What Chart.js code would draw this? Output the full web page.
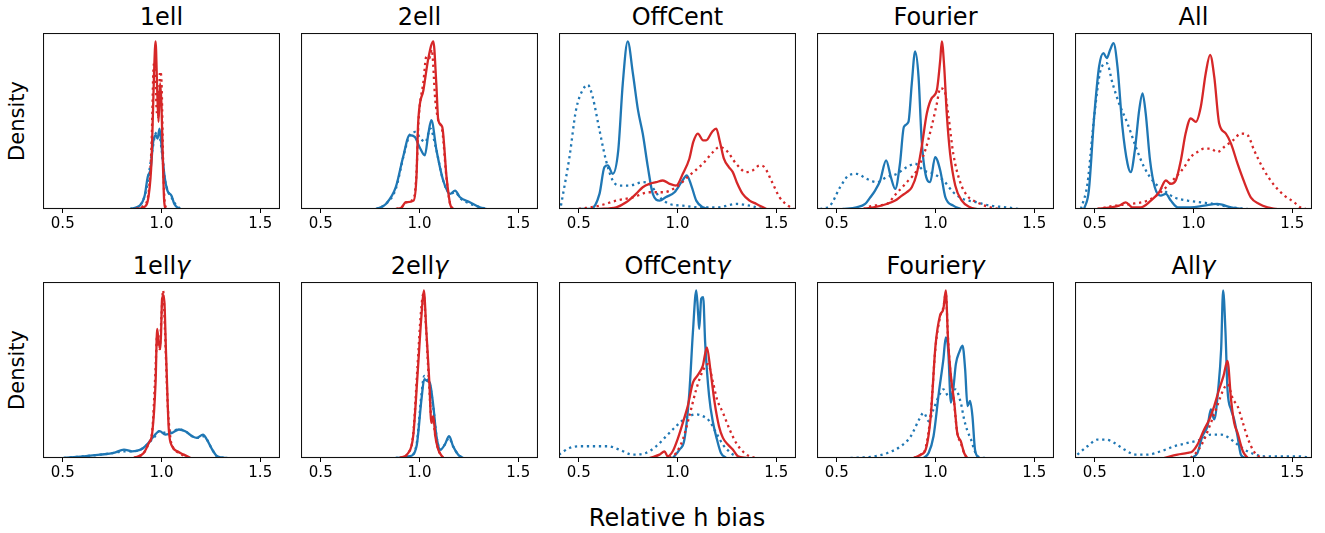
<!DOCTYPE html>
<html>
<head>
<meta charset="utf-8">
<script src="https://cdn.jsdelivr.net/npm/chart.js@4/dist/chart.umd.min.js"></script>
<style>
  html, body { margin: 0; padding: 0; background: #fff; }
  body { width: 1325px; height: 533px; position: relative; overflow: hidden; font-family: "DejaVu Sans", sans-serif; color: #000; }
  .title { position: absolute; width: 237px; text-align: center; font-size: 24px; line-height: 24px; white-space: nowrap; }
  .ylab { position: absolute; font-size: 21px; line-height: 21px; white-space: nowrap; transform: translate(-50%, -50%) rotate(-90deg); }
  .xlab { position: absolute; font-size: 24px; line-height: 24px; white-space: nowrap; transform: translateX(-50%); }
  canvas { position: absolute; }
</style>
</head>
<body>
<script>
// ---------- data (x = relative h bias, y = density scaled so panel max = 100) ----------
const xTicks = [0.5, 1.0, 1.5];
const titles = ["1ell", "2ell", "OffCent", "Fourier", "All", "1ell\u03b3", "2ell\u03b3", "OffCent\u03b3", "Fourier\u03b3", "All\u03b3"];

// 1ell
const ell1_blueSolid = [[0.84,0],[0.89,2],[0.915,8],[0.93,19],[0.945,24],[0.958,40],[0.97,44],[0.98,42],[0.99,48],[1.0,38],[1.015,20],[1.03,11],[1.05,8],[1.065,3],[1.09,0]];
const ell1_blueDot   = [[0.84,0],[0.89,2],[0.92,10],[0.935,20],[0.955,36],[0.97,45],[0.985,46],[1.0,36],[1.015,19],[1.035,10],[1.055,6],[1.075,2],[1.1,0]];
const ell1_redSolid  = [[0.87,0],[0.91,1],[0.935,8],[0.95,30],[0.962,80],[0.97,100],[0.978,72],[0.985,52],[0.993,75],[1.0,62],[1.007,28],[1.013,6],[1.02,0]];
const ell1_redDot    = [[0.87,0],[0.91,2],[0.935,10],[0.95,40],[0.96,85],[0.967,88],[0.975,60],[0.983,55],[0.993,82],[1.0,76],[1.008,30],[1.015,6],[1.025,0]];
// 2ell
const ell2_blueSolid = [[0.78,0],[0.83,3],[0.88,13],[0.917,31],[0.95,44],[0.976,43],[1.0,37],[1.027,32],[1.045,45],[1.06,53],[1.086,35],[1.12,17],[1.155,9],[1.18,11],[1.205,7],[1.255,4],[1.305,1],[1.34,0]];
const ell2_blueDot   = [[0.78,0],[0.83,3],[0.88,12],[0.92,32],[0.95,44],[0.98,46],[1.005,42],[1.03,40],[1.055,48],[1.08,38],[1.12,17],[1.155,9],[1.18,10],[1.21,6],[1.26,3],[1.31,1],[1.34,0]];
const ell2_redSolid  = [[0.88,0],[0.91,1],[0.93,4],[0.97,5],[0.985,20],[0.993,51],[1.02,71],[1.045,90],[1.07,100],[1.085,75],[1.095,53],[1.115,49],[1.137,19],[1.155,3],[1.17,0]];
const ell2_redDot    = [[0.88,0],[0.91,1],[0.93,4],[0.97,6],[0.985,22],[0.995,52],[1.02,76],[1.035,91],[1.05,90],[1.062,95],[1.08,65],[1.095,53],[1.115,47],[1.137,18],[1.155,3],[1.17,0]];
// OffCent
const off_blueSolid  = [[0.5,0],[0.56,0],[0.605,9],[0.63,25],[0.647,26],[0.672,21],[0.70,35],[0.723,75],[0.748,100],[0.774,81],[0.80,59],[0.824,45],[0.85,25],[0.875,9],[0.91,5],[0.94,7],[0.985,10],[1.02,16],[1.047,20],[1.07,14],[1.095,5],[1.13,1],[1.16,0]];
const off_blueDot    = [[0.41,2],[0.453,31],[0.486,59],[0.52,71],[0.546,74],[0.57,67],[0.605,47],[0.638,29],[0.672,17],[0.706,14],[0.757,14],[0.824,16],[0.858,15],[0.91,7],[0.96,3],[1.027,2],[1.11,1],[1.2,1],[1.30,3],[1.365,2],[1.43,0]];
const off_redSolid   = [[0.6,0],[0.69,1],[0.74,4],[0.79,9],[0.824,13],[0.858,15],[0.892,16],[0.926,17],[0.96,15],[0.993,14],[1.027,21],[1.06,30],[1.08,40],[1.103,45],[1.13,41],[1.145,41],[1.175,46],[1.196,48],[1.215,40],[1.235,30],[1.26,25],[1.28,22],[1.30,16],[1.33,9],[1.365,5],[1.40,3],[1.45,0]];
const off_redDot     = [[0.5,0],[0.605,2],[0.69,5],[0.774,7],[0.858,10],[0.926,10],[0.993,13],[1.06,20],[1.128,27],[1.18,34],[1.213,37],[1.247,35],[1.297,27],[1.348,22],[1.38,23],[1.416,26],[1.44,25],[1.475,17],[1.517,7],[1.56,2],[1.59,0]];
// Fourier
const four_blueSolid = [[0.53,0],[0.6,1],[0.644,3],[0.67,7],[0.694,11],[0.72,17],[0.75,29],[0.774,19],[0.796,12],[0.82,27],[0.84,49],[0.863,52],[0.88,75],[0.897,94],[0.914,79],[0.93,41],[0.953,19],[0.973,16],[0.998,31],[1.024,23],[1.05,7],[1.09,2],[1.13,0]];
const four_blueDot   = [[0.415,0],[0.466,2],[0.517,13],[0.56,20],[0.6,21],[0.652,18],[0.703,16],[0.753,19],[0.804,21],[0.855,25],[0.897,27],[0.94,23],[0.99,21],[1.04,17],[1.09,10],[1.14,6],[1.21,4],[1.277,2],[1.36,1],[1.42,0]];
const four_redSolid  = [[0.635,0],[0.686,1],[0.753,3],[0.796,5],[0.83,8],[0.855,10],[0.88,13],[0.905,21],[0.93,37],[0.956,57],[0.98,66],[1.007,71],[1.024,89],[1.032,100],[1.044,85],[1.057,57],[1.074,33],[1.1,14],[1.133,5],[1.175,1],[1.21,0]];
const four_redDot    = [[0.635,0],[0.686,2],[0.753,3],[0.8,9],[0.855,16],[0.905,23],[0.948,35],[0.98,49],[1.007,63],[1.024,72],[1.044,71],[1.066,55],[1.09,33],[1.125,16],[1.16,8],[1.21,4],[1.277,1],[1.33,0]];
// All
const all_blueSolid  = [[0.446,0],[0.47,11],[0.497,55],[0.522,85],[0.544,93],[0.561,90],[0.578,95],[0.595,99],[0.615,85],[0.64,49],[0.666,27],[0.682,22],[0.703,35],[0.725,59],[0.742,69],[0.758,57],[0.78,29],[0.804,13],[0.834,8],[0.86,9],[0.885,5],[0.92,1],[0.986,1],[1.054,2],[1.12,3],[1.19,1],[1.24,0]];
const all_blueDot    = [[0.43,0],[0.463,15],[0.497,55],[0.53,83],[0.561,87],[0.59,75],[0.623,63],[0.666,51],[0.708,37],[0.75,25],[0.8,16],[0.851,11],[0.902,7],[0.97,5],[1.037,4],[1.105,3],[1.19,1],[1.274,0]];
const all_redSolid   = [[0.514,0],[0.58,1],[0.623,2],[0.657,4],[0.69,1],[0.733,1],[0.784,5],[0.826,10],[0.86,17],[0.885,15],[0.91,17],[0.936,29],[0.96,45],[0.986,54],[1.012,52],[1.037,61],[1.062,81],[1.084,92],[1.105,79],[1.13,51],[1.164,45],[1.19,39],[1.223,27],[1.257,16],[1.29,7],[1.333,3],[1.375,1],[1.42,0]];
const all_redDot     = [[0.514,0],[0.6,2],[0.682,3],[0.767,5],[0.834,10],[0.902,18],[0.953,25],[0.986,31],[1.02,34],[1.054,36],[1.088,36],[1.12,34],[1.155,37],[1.2,41],[1.24,45],[1.274,44],[1.307,35],[1.358,23],[1.41,14],[1.46,8],[1.51,4],[1.54,1],[1.57,0]];
// 1ell gamma
const ell1g_blueSolid = [[0.505,0],[0.606,1],[0.69,2],[0.758,3],[0.81,5],[0.85,4],[0.894,5],[0.927,8],[0.961,13],[0.99,16],[1.02,14],[1.054,15],[1.088,17],[1.12,16],[1.155,13],[1.18,12],[1.21,14],[1.23,11],[1.257,5],[1.282,1],[1.333,0]];
const ell1g_blueDot   = [[0.505,0],[0.606,1],[0.69,2],[0.758,3],[0.81,4],[0.85,4],[0.894,5],[0.927,8],[0.961,12],[0.99,16],[1.02,15],[1.054,16],[1.088,17],[1.12,16],[1.155,13],[1.18,12],[1.21,13],[1.23,11],[1.257,5],[1.282,1],[1.333,0]];
const ell1g_redSolid  = [[0.86,0],[0.91,3],[0.936,9],[0.953,15],[0.97,45],[0.978,77],[0.986,69],[0.995,65],[1.003,95],[1.012,97],[1.024,59],[1.037,17],[1.054,7],[1.08,4],[1.113,2],[1.147,0]];
const ell1g_redDot    = [[0.86,0],[0.91,3],[0.936,9],[0.953,16],[0.968,48],[0.978,73],[0.99,65],[1.0,85],[1.008,100],[1.018,75],[1.03,35],[1.045,12],[1.06,6],[1.09,3],[1.12,1],[1.15,0]];
// 2ell gamma
const ell2g_blueSolid = [[0.88,0],[0.95,1],[0.985,7],[1.01,35],[1.024,47],[1.039,46],[1.052,45],[1.07,31],[1.086,13],[1.106,5],[1.128,8],[1.15,13],[1.17,7],[1.196,2],[1.22,0]];
const ell2g_blueDot   = [[0.88,0],[0.95,1],[0.985,8],[1.01,38],[1.024,49],[1.039,47],[1.052,44],[1.07,30],[1.086,13],[1.106,5],[1.128,8],[1.15,12],[1.17,7],[1.196,2],[1.22,0]];
const ell2g_redSolid  = [[0.9,0],[0.943,3],[0.968,13],[0.993,55],[1.01,85],[1.022,100],[1.035,75],[1.05,45],[1.06,21],[1.07,25],[1.08,13],[1.095,5],[1.12,0]];
const ell2g_redDot    = [[0.9,0],[0.943,3],[0.968,14],[0.99,55],[1.008,88],[1.02,98],[1.033,78],[1.048,45],[1.06,24],[1.07,22],[1.08,13],[1.095,5],[1.12,0]];
// OffCent gamma
const offg_blueSolid  = [[0.976,0],[1.01,5],[1.035,11],[1.06,39],[1.078,75],[1.095,100],[1.105,85],[1.11,77],[1.12,95],[1.13,96],[1.14,69],[1.16,37],[1.18,21],[1.2,11],[1.22,3],[1.247,0]];
const offg_blueDot    = [[0.40,2],[0.453,6],[0.503,7],[0.57,7],[0.647,7],[0.706,5],[0.774,2],[0.84,3],[0.892,7],[0.943,13],[0.993,19],[1.044,24],[1.095,26],[1.128,25],[1.162,22],[1.196,15],[1.23,8],[1.27,3],[1.314,0]];
const offg_redSolid   = [[0.858,0],[0.909,2],[0.934,4],[0.95,1],[0.976,4],[1.0,11],[1.027,21],[1.052,31],[1.078,45],[1.1,49],[1.128,55],[1.149,66],[1.166,53],[1.188,33],[1.21,19],[1.23,12],[1.255,8],[1.28,5],[1.306,1],[1.35,0]];
const offg_redDot     = [[0.96,0],[0.993,3],[1.027,11],[1.06,25],[1.095,41],[1.128,52],[1.154,56],[1.18,45],[1.2,35],[1.23,27],[1.264,17],[1.297,9],[1.33,4],[1.365,1],[1.41,0]];
// Fourier gamma
const fourg_blueSolid = [[0.94,0],[0.965,3],[0.99,13],[1.017,39],[1.04,59],[1.052,72],[1.064,65],[1.078,33],[1.09,41],[1.103,56],[1.12,63],[1.137,67],[1.15,53],[1.162,31],[1.175,34],[1.187,25],[1.2,5],[1.22,0]];
const fourg_blueDot   = [[0.57,0],[0.69,1],[0.757,3],[0.824,7],[0.875,13],[0.917,23],[0.94,27],[0.966,22],[0.99,29],[1.017,37],[1.04,41],[1.066,37],[1.1,41],[1.128,33],[1.145,23],[1.162,16],[1.18,11],[1.196,5],[1.213,1],[1.25,0]];
const fourg_redSolid  = [[0.89,0],[0.925,2],[0.95,5],[0.976,25],[1.0,67],[1.023,85],[1.04,89],[1.052,100],[1.064,69],[1.078,49],[1.095,33],[1.11,15],[1.128,10],[1.145,3],[1.16,0]];
const fourg_redDot    = [[0.89,0],[0.925,2],[0.95,6],[0.976,27],[1.0,66],[1.023,84],[1.04,90],[1.052,98],[1.064,70],[1.078,48],[1.095,32],[1.11,15],[1.128,9],[1.145,3],[1.16,0]];
// All gamma
const allg_blueSolid  = [[0.986,0],[1.02,3],[1.045,13],[1.071,19],[1.088,29],[1.105,23],[1.125,41],[1.14,65],[1.15,100],[1.162,75],[1.172,41],[1.19,29],[1.206,23],[1.223,13],[1.24,2],[1.265,0]];
const allg_blueDot    = [[0.412,2],[0.463,7],[0.514,11],[0.556,11],[0.6,9],[0.65,5],[0.708,2],[0.767,2],[0.834,4],[0.902,7],[0.97,9],[1.037,11],[1.088,14],[1.14,14],[1.18,12],[1.223,8],[1.274,4],[1.358,1],[1.527,1],[1.6,0]];
const allg_redSolid   = [[0.85,0],[0.919,2],[0.97,3],[0.995,4],[1.02,8],[1.054,17],[1.08,23],[1.105,31],[1.13,41],[1.152,49],[1.172,58],[1.19,35],[1.206,21],[1.223,15],[1.25,4],[1.274,0]];
const allg_redDot     = [[0.986,0],[1.02,4],[1.054,11],[1.088,21],[1.12,31],[1.152,41],[1.172,44],[1.2,35],[1.223,31],[1.25,21],[1.274,12],[1.3,5],[1.33,1],[1.37,0]];

const panelSeries = [
  [ell1_blueSolid, ell1_blueDot, ell1_redSolid, ell1_redDot],
  [ell2_blueSolid, ell2_blueDot, ell2_redSolid, ell2_redDot],
  [off_blueSolid, off_blueDot, off_redSolid, off_redDot],
  [four_blueSolid, four_blueDot, four_redSolid, four_redDot],
  [all_blueSolid, all_blueDot, all_redSolid, all_redDot],
  [ell1g_blueSolid, ell1g_blueDot, ell1g_redSolid, ell1g_redDot],
  [ell2g_blueSolid, ell2g_blueDot, ell2g_redSolid, ell2g_redDot],
  [offg_blueSolid, offg_blueDot, offg_redSolid, offg_redDot],
  [fourg_blueSolid, fourg_blueDot, fourg_redSolid, fourg_redDot],
  [allg_blueSolid, allg_blueDot, allg_redSolid, allg_redDot]
];

// ---------- layout / style ----------
const BLUE = '#1f77b4', RED = '#d62728';
const FRAME_W = 237, FRAME_H = 176, AXIS_H = 30;
const COL0 = 43, COL_STEP = 258, ROW0 = 33, ROW_STEP = 249;
const FONT = '"DejaVu Sans", sans-serif';
const LW = 2.3, DOTS = [2.3, 3.7];

const framePlugin = {
  id: 'frame',
  afterDatasetsDraw(chart) {
    const a = chart.chartArea, c = chart.ctx;
    c.save();
    c.strokeStyle = '#111';
    c.lineWidth = 1.1;
    c.strokeRect(Math.round(a.left) + 0.5, Math.round(a.top) + 0.5, Math.round(a.right - a.left) - 1, Math.round(a.bottom - a.top) - 1);
    c.restore();
  }
};

function addText(cls, html, left, top) {
  const d = document.createElement('div');
  d.className = cls;
  d.innerHTML = html;
  d.style.left = left + 'px';
  d.style.top = top + 'px';
  document.body.appendChild(d);
  return d;
}

panelSeries.forEach((series, i) => {
  const col = i % 5, row = Math.floor(i / 5);
  const left = COL0 + col * COL_STEP, top = ROW0 + row * ROW_STEP;

  const t = titles[i].replace('\u03b3', '<span style="font-style:italic">\u03b3</span>');
  addText('title', t, left, top - 28);

  const cv = document.createElement('canvas');
  cv.width = FRAME_W; cv.height = FRAME_H + AXIS_H;
  cv.style.left = left + 'px'; cv.style.top = top + 'px';
  cv.style.width = FRAME_W + 'px'; cv.style.height = (FRAME_H + AXIS_H) + 'px';
  document.body.appendChild(cv);

  const styles = [
    { c: BLUE, dash: [] }, { c: BLUE, dash: DOTS },
    { c: RED, dash: [] }, { c: RED, dash: DOTS }
  ];
  const datasets = series.map((s, k) => ({
    data: s.map(p => ({ x: p[0], y: p[1] })),
    borderColor: styles[k].c,
    borderDash: styles[k].dash,
    borderWidth: LW,
    pointRadius: 0,
    fill: false,
    cubicInterpolationMode: 'monotone',
    order: 4 - k
  }));

  new Chart(cv, {
    type: 'line',
    data: { datasets },
    plugins: [framePlugin],
    options: {
      responsive: false,
      animation: false,
      devicePixelRatio: 1,
      layout: { padding: 0 },
      plugins: { legend: { display: false }, tooltip: { enabled: false }, title: { display: false } },
      scales: {
        x: {
          type: 'linear', min: 0.4, max: 1.6,
          afterBuildTicks: s => { s.ticks = xTicks.map(v => ({ value: v })); },
          afterFit: s => { s.height = AXIS_H; },
          grid: { display: true, drawOnChartArea: false, drawTicks: true, tickLength: 4, color: '#000', lineWidth: 1 },
          border: { display: false },
          ticks: { color: '#000', font: { family: FONT, size: 15 }, padding: 2, maxRotation: 0, autoSkip: false,
                   callback: v => Number(v).toFixed(1) }
        },
        y: { display: false, min: 0, max: 105 }
      }
    }
  });
});

addText('ylab', 'Density', 17, ROW0 + FRAME_H / 2);
addText('ylab', 'Density', 17, ROW0 + ROW_STEP + FRAME_H / 2);
addText('xlab', 'Relative h bias', 677, 506);
</script>
</body>
</html>
